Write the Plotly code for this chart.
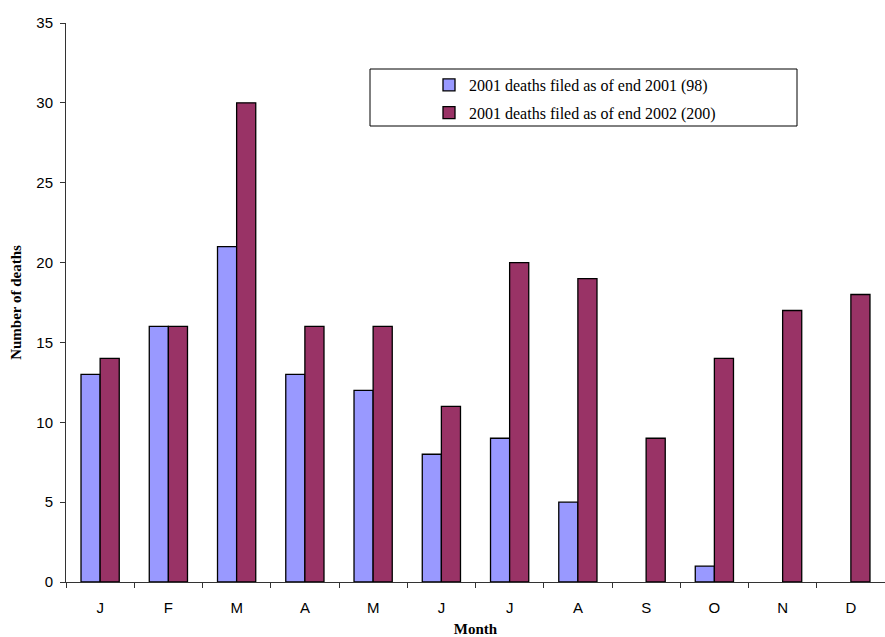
import plotly.graph_objects as go

months = ["J", "F", "M", "A", "M", "J", "J", "A", "S", "O", "N", "D"]
filed_2001 = [13, 16, 21, 13, 12, 8, 9, 5, 0, 1, 0, 0]
filed_2002 = [14, 16, 30, 16, 16, 11, 20, 19, 9, 14, 17, 18]
series_names = ["2001 deaths filed as of end 2001 (98)", "2001 deaths filed as of end 2002 (200)"]
y_ticks = [0, 5, 10, 15, 20, 25, 30, 35]

x_idx = list(range(len(months)))

def outline(vals):
    return [0 if v == 0 else 1.3 for v in vals]

fig = go.Figure()
fig.add_trace(go.Bar(x=x_idx, y=filed_2001, name=series_names[0], legendgroup="a",
                     marker=dict(color="#9999FF", line=dict(color="black", width=outline(filed_2001)))))
fig.add_trace(go.Bar(x=x_idx, y=filed_2002, name=series_names[1], legendgroup="b",
                     marker=dict(color="#993366", line=dict(color="black", width=outline(filed_2002)))))

L, R, T, B = 66, 0, 23, 55
W, H = 885, 637
pw = W - L - R
ph = H - T - B

def px_x(p):
    return (p - L) / pw

def px_y(p):
    return (H - B - p) / ph

fig.add_shape(type="rect", xref="paper", yref="paper",
              x0=px_x(370), x1=px_x(797), y0=px_y(126), y1=px_y(69),
              line=dict(color="black", width=1), fillcolor="rgba(0,0,0,0)")

serif = "Liberation Serif, Times New Roman, serif"
sans = "Liberation Sans, Arial, sans-serif"

fig.update_layout(
    width=W, height=H,
    margin=dict(l=L, r=R, t=T, b=B),
    plot_bgcolor="white", paper_bgcolor="white",
    barmode="group", bargap=0.44, bargroupgap=0,
    showlegend=True,
    legend=dict(x=px_x(575), y=px_y(99), xanchor="center", yanchor="middle",
                bgcolor="rgba(0,0,0,0)", borderwidth=0, tracegroupgap=4,
                font=dict(family=serif, size=16, color="black")),
    xaxis=dict(
        tickmode="array", tickvals=x_idx, ticktext=months,
        range=[-0.5, 11.5], showgrid=False, zeroline=False, automargin=False,
        showline=True, linecolor="#333", linewidth=1,
        ticks="", ticklabelstandoff=12,
        tickfont=dict(family=sans, size=15, color="black"),
        title=dict(text="<b>Month</b>", standoff=10,
                   font=dict(family=serif, size=15, color="black")),
    ),
    yaxis=dict(
        range=[0, 35], tickvals=y_ticks, showgrid=False, zeroline=False, automargin=False,
        showline=True, linecolor="#333", linewidth=1,
        ticks="outside", ticklen=5, tickcolor="#333", ticklabelstandoff=4,
        tickfont=dict(family=sans, size=15, color="black"),
        title=dict(text="<b>Number of deaths</b>", standoff=11,
                   font=dict(family=serif, size=15, color="black")),
    ),
)

fig.update_xaxes(minor=dict(tickmode="array", tickvals=[i - 0.5 for i in range(13)],
                            ticks="outside", ticklen=5, tickcolor="#333", showgrid=False))

fig.write_html("out.html", config={"displayModeBar": False},
               post_script="document.body.style.margin='0px';")
